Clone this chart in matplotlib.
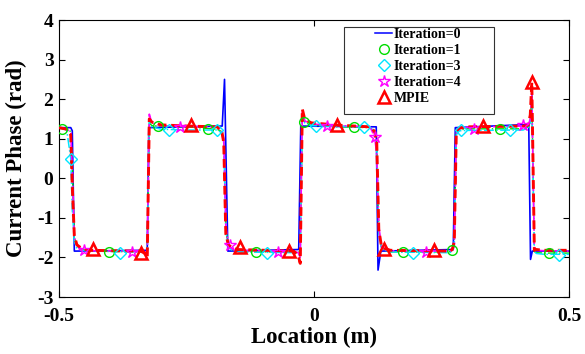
import matplotlib
matplotlib.use('Agg')
import matplotlib.pyplot as plt
from matplotlib.lines import Line2D
from matplotlib.patches import Rectangle

# Iteration=0 (sharp edges, spikes)
it0_x = [-0.5, -0.477, -0.474, -0.470, -0.327, -0.324, -0.180, -0.1755, -0.169,
         -0.030, -0.026, 0.122, 0.1255, 0.131, 0.273, 0.277, 0.421, 0.4245, 0.428, 0.5]
it0_y = [1.28, 1.28, 1.20, -1.84, -1.82, 1.28, 1.32, 2.50, -1.84,
         -1.80, 1.32, 1.30, -2.32, -1.84, -1.80, 1.28, 1.36, -2.05, -1.84, -1.84]

# shared locations for the smoothed curves
sx = [-0.5, -0.485, -0.477, -0.474, -0.470, -0.465, -0.455, -0.44,
      -0.34, -0.331, -0.327, -0.323, -0.318, -0.30, -0.25,
      -0.19, -0.181, -0.177, -0.173, -0.168, -0.16, -0.15,
      -0.04, -0.031, -0.027, -0.023, -0.018, -0.005, 0.05,
      0.11, 0.119, 0.123, 0.127, 0.132, 0.14, 0.15,
      0.265, 0.271, 0.275, 0.279, 0.285, 0.30,
      0.41, 0.420, 0.424, 0.427, 0.432, 0.436, 0.45, 0.5]

it1_y = [1.26, 1.25, 1.18, 0.3, -1.5, -1.72, -1.80, -1.84,
         -1.86, -1.86, -1.85, 1.40, 1.33, 1.32, 1.30,
         1.24, 1.18, 0.95, -1.3, -1.72, -1.80, -1.86,
         -1.86, -1.86, -1.9, 1.50, 1.42, 1.35, 1.30,
         1.28, 1.15, 0.85, -1.3, -1.74, -1.82, -1.86,
         -1.86, -1.82, -1.65, 1.15, 1.22, 1.25,
         1.25, 1.30, 1.45, 2.1, -1.85, -1.88, -1.89, -1.89]

it3_y = [1.28, 1.22, 0.5, -0.8, -1.6, -1.76, -1.82, -1.84,
         -1.86, -1.87, -1.9, 1.45, 1.30, 1.24, 1.22,
         1.22, 1.15, 0.9, -1.3, -1.75, -1.82, -1.86,
         -1.88, -1.9, -1.95, 1.55, 1.40, 1.33, 1.31,
         1.30, 1.15, 0.8, -1.3, -1.75, -1.82, -1.86,
         -1.88, -1.86, -1.7, 1.10, 1.20, 1.21,
         1.22, 1.28, 1.4, 2.0, -1.85, -1.90, -1.92, -1.92]

it4_y = [1.28, 1.25, 1.15, 0.2, -1.5, -1.7, -1.80, -1.83,
         -1.84, -1.86, -1.9, 1.62, 1.40, 1.33, 1.31,
         1.30, 1.22, 1.0, -1.2, -1.69, -1.78, -1.82,
         -1.84, -1.88, -2.0, 1.70, 1.45, 1.37, 1.33,
         1.30, 1.04, 0.6, -1.2, -1.72, -1.80, -1.83,
         -1.84, -1.82, -1.7, 1.15, 1.25, 1.29,
         1.32, 1.34, 1.5, 2.2, -1.80, -1.82, -1.83, -1.84]

mpie_y = [1.28, 1.24, 1.10, -0.2, -1.45, -1.68, -1.78, -1.82,
          -1.84, -1.90, -2.0, 1.50, 1.42, 1.35, 1.32,
          1.30, 1.20, 0.9, -1.4, -1.68, -1.76, -1.80,
          -1.84, -1.95, -2.15, 1.75, 1.48, 1.40, 1.34,
          1.30, 1.18, 0.9, -1.3, -1.70, -1.78, -1.82,
          -1.84, -1.80, -1.6, 1.20, 1.27, 1.30,
          1.32, 1.34, 1.6, 2.43, -1.82, -1.80, -1.82, -1.82]

# marker positions
m1_x = [-0.495, -0.402, -0.305, -0.207, -0.113, -0.020, 0.078, 0.174, 0.270, 0.365, 0.46]
m1_y = [1.24, -1.86, 1.32, 1.24, -1.86, 1.42, 1.30, -1.86, -1.80, 1.25, -1.89]
m3_x = [-0.476, -0.380, -0.285, -0.190, -0.093, 0.003, 0.098, 0.194, 0.289, 0.384, 0.48]
m3_y = [0.50, -1.89, 1.21, 1.21, -1.89, 1.32, 1.30, -1.89, 1.21, 1.21, -1.94]
m4_x = [-0.452, -0.356, -0.262, -0.165, -0.071, 0.026, 0.119, 0.219, 0.314, 0.409]
m4_y = [-1.82, -1.86, 1.30, -1.69, -1.86, 1.32, 1.04, -1.86, 1.25, 1.34]
mp_x = [-0.434, -0.339, -0.242, -0.146, -0.050, 0.045, 0.137, 0.235, 0.332, 0.427]
mp_y = [-1.78, -1.89, 1.34, -1.73, -1.84, 1.34, -1.78, -1.82, 1.32, 2.43]

plt.rcParams['font.family'] = ['Liberation Serif', 'DejaVu Serif']
plt.rcParams['font.weight'] = 'bold'

fig = plt.figure(figsize=(5.85, 3.54), dpi=100)
ax = fig.add_axes([0.1009, 0.161, 0.8718, 0.7825])

ax.plot(it0_x, it0_y, color='#0000ff', lw=1.2, zorder=2)
ax.plot(sx, it1_y, color='#00dd00', lw=1.0, ls='-.', zorder=3)
ax.plot(sx, it3_y, color='#00e5ff', lw=1.1, ls='-.', zorder=3)
ax.plot(sx, it4_y, color='#ff00ff', lw=1.2, ls='-.', zorder=4)
ax.plot(sx, mpie_y, color='#ff0000', lw=2.1, dashes=(3, 1.6), zorder=5)

ax.plot(m1_x, m1_y, 'o', ms=7, mfc='none', mec='#00dd00', mew=1.0, zorder=6)
ax.plot(m3_x, m3_y, 'D', ms=6.5, mfc='none', mec='#00e5ff', mew=1.0, zorder=6)
ax.plot(m4_x, m4_y, '*', ms=9, mfc='none', mec='#ff00ff', mew=1.0, zorder=6)
ax.plot(mp_x, mp_y, '^', ms=8, mfc='none', mec='#ff0000', mew=1.8, zorder=7)

ax.set_xlim(-0.5, 0.5)
ax.set_ylim(-3, 4)
ax.set_xticks([-0.5, 0, 0.5])
ax.set_xticklabels(['-0.5', '0', '0.5'])
ax.set_yticks(range(-3, 5))
ax.set_yticklabels([str(v) for v in range(-3, 5)])
ax.tick_params(direction='in', length=4, width=0.8, top=True, right=True,
               labelsize=14)
ax.tick_params(axis='x', pad=8)
ax.tick_params(axis='y', pad=4)
for s in ax.spines.values():
    s.set_linewidth(0.8)

ax.set_xlabel('Location (m)', fontsize=16.5, fontweight='bold', labelpad=1)
ax.set_ylabel('Current Phase (rad)', fontsize=16.5, fontweight='bold', labelpad=7)

handles = [
    Line2D([], [], color='#0000ff', lw=1.1),
    Line2D([], [], ls='none', marker='o', ms=7, mfc='none', mec='#00dd00', mew=1.0),
    Line2D([], [], ls='none', marker='D', ms=6.5, mfc='none', mec='#00e5ff', mew=1.0),
    Line2D([], [], ls='none', marker='*', ms=9, mfc='none', mec='#ff00ff', mew=1.0),
    Line2D([], [], ls='none', marker='^', ms=8, mfc='none', mec='#ff0000', mew=1.8),
]
labels = ['Iteration=0', 'Iteration=1', 'Iteration=3', 'Iteration=4', 'MPIE']
leg = ax.legend(handles, labels, loc='upper left', bbox_to_anchor=(0.620, 0.972),
                frameon=False, fontsize=10, handlelength=1.2, handletextpad=0.15,
                labelspacing=0.22, borderaxespad=0, borderpad=0)
leg.set_zorder(10)
ax.add_patch(Rectangle((0.559, 0.661), 0.294, 0.314, transform=ax.transAxes,
                       facecolor='white', edgecolor='#333333', lw=0.8, zorder=9))

fig.savefig('out.png', dpi=100)
